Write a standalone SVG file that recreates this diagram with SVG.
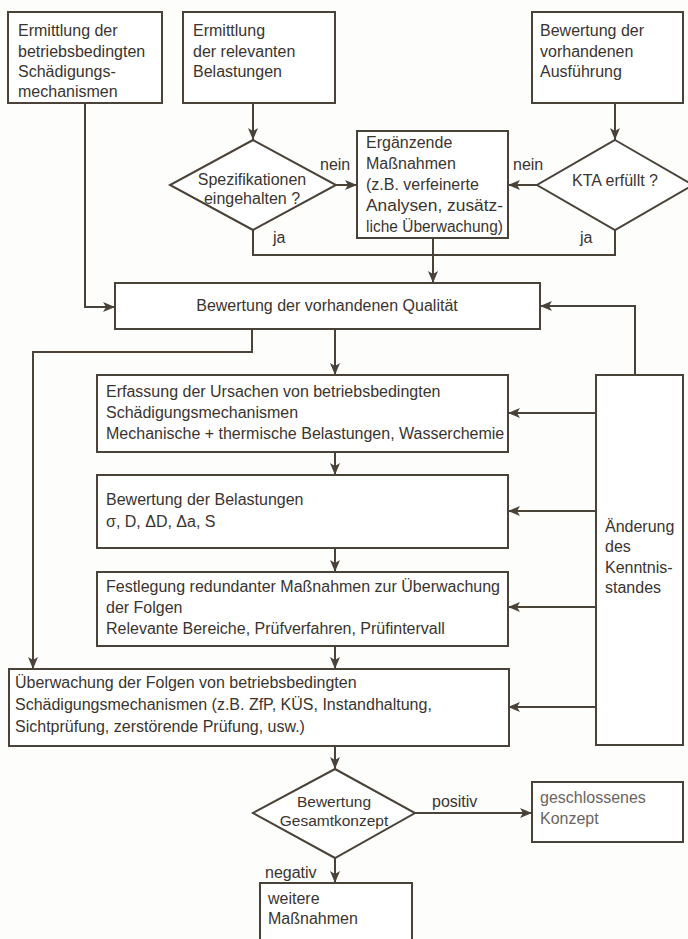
<svg xmlns="http://www.w3.org/2000/svg" width="688" height="939" viewBox="0 0 688 939">
<style>
.bg{fill:#fdfdfc}
.box{fill:#ffffff;stroke:#4a4238;stroke-width:2}
.c{fill:none;stroke:#4a4238;stroke-width:2}
.t{font-family:"Liberation Sans",Arial,sans-serif;font-size:16px;fill:#3a342f}
.d{font-size:15.5px}
.m{text-anchor:middle}
.g{fill:#6a6560}
</style>
<defs>
<marker id="ah" viewBox="0 0 12 10" refX="12" refY="5" markerWidth="12" markerHeight="10" markerUnits="userSpaceOnUse" orient="auto">
<path d="M0,0 L12,5 L0,10 L3,5 z" fill="#4a4238"/>
</marker>
</defs>
<rect class="bg" x="0" y="0" width="688" height="939"/>

<g id="connectors">
<path class="c" d="M85,103 V307 H115" marker-end="url(#ah)"/>
<path class="c" d="M253,103 V140" marker-end="url(#ah)"/>
<path class="c" d="M615,103 V140" marker-end="url(#ah)"/>
<path class="c" d="M336,185 H357" marker-end="url(#ah)"/>
<path class="c" d="M537,185 H508" marker-end="url(#ah)"/>
<path class="c" d="M253,230 V255 H615 V230"/>
<path class="c" d="M433,238 V283" marker-end="url(#ah)"/>
<path class="c" d="M335,329 V375" marker-end="url(#ah)"/>
<path class="c" d="M252,329 V352 H33 V669" marker-end="url(#ah)"/>
<path class="c" d="M335,452 V475" marker-end="url(#ah)"/>
<path class="c" d="M335,548 V572" marker-end="url(#ah)"/>
<path class="c" d="M335,646 V669" marker-end="url(#ah)"/>
<path class="c" d="M635,375 V306 H540" marker-end="url(#ah)"/>
<path class="c" d="M596,413 H508" marker-end="url(#ah)"/>
<path class="c" d="M596,511 H508" marker-end="url(#ah)"/>
<path class="c" d="M596,607 H508" marker-end="url(#ah)"/>
<path class="c" d="M596,707 H508" marker-end="url(#ah)"/>
<path class="c" d="M335,746 V769" marker-end="url(#ah)"/>
<path class="c" d="M415,813 H532" marker-end="url(#ah)"/>
<path class="c" d="M335,858 V883" marker-end="url(#ah)"/>
<text class="t" x="320" y="170">nein</text>
<text class="t" x="513" y="170">nein</text>
<text class="t" x="273" y="243">ja</text>
<text class="t" x="580" y="243">ja</text>
<text class="t" x="432" y="807">positiv</text>
<text class="t" x="265" y="878">negativ</text>
</g>

<g id="n1">
<rect class="box" x="8" y="12" width="154" height="91"/>
<text class="t" x="18" y="36">Ermittlung der</text>
<text class="t" x="18" y="57">betriebsbedingten</text>
<text class="t" x="18" y="77">Schädigungs-</text>
<text class="t" x="18" y="97">mechanismen</text>
</g>

<g id="n2">
<rect class="box" x="183" y="12" width="152" height="91"/>
<text class="t" x="193" y="36">Ermittlung</text>
<text class="t" x="193" y="57">der relevanten</text>
<text class="t" x="193" y="77">Belastungen</text>
</g>

<g id="n3">
<rect class="box" x="532" y="12" width="151" height="91"/>
<text class="t" x="540" y="36">Bewertung der</text>
<text class="t" x="540" y="57">vorhandenen</text>
<text class="t" x="540" y="77">Ausführung</text>
</g>

<g id="d1">
<polygon class="box" points="253,140 336,185 253,230 170,185"/>
<text class="t m" x="252" y="185">Spezifikationen</text>
<text class="t m" x="252" y="204">eingehalten ?</text>
</g>

<g id="d2">
<polygon class="box" points="615,140 693,185 615,230 537,185"/>
<text class="t m" x="615" y="186">KTA erfüllt ?</text>
</g>

<g id="n4">
<rect class="box" x="357" y="131" width="151" height="107"/>
<text class="t" x="366" y="148">Ergänzende</text>
<text class="t" x="366" y="169">Maßnahmen</text>
<text class="t" x="366" y="190">(z.B. verfeinerte</text>
<text class="t" x="366" y="211" textLength="137" lengthAdjust="spacingAndGlyphs">Analysen, zusätz-</text>
<text class="t" x="366" y="232" textLength="137" lengthAdjust="spacingAndGlyphs">liche Überwachung)</text>
</g>

<g id="n5">
<rect class="box" x="115" y="283" width="425" height="46"/>
<text class="t m" x="327" y="311">Bewertung der vorhandenen Qualität</text>
</g>

<g id="n6">
<rect class="box" x="97" y="375" width="411" height="77"/>
<text class="t" x="106" y="397">Erfassung der Ursachen von betriebsbedingten</text>
<text class="t" x="106" y="418">Schädigungsmechanismen</text>
<text class="t" x="106" y="439">Mechanische + thermische Belastungen, Wasserchemie</text>
</g>

<g id="n7">
<rect class="box" x="97" y="475" width="411" height="73"/>
<text class="t" x="106" y="505">Bewertung der Belastungen</text>
<text class="t" x="106" y="527">σ, D, ΔD, Δa, S</text>
</g>

<g id="n8">
<rect class="box" x="97" y="572" width="411" height="74"/>
<text class="t" x="106" y="592">Festlegung redundanter Maßnahmen zur Überwachung</text>
<text class="t" x="106" y="613">der Folgen</text>
<text class="t" x="106" y="634">Relevante Bereiche, Prüfverfahren, Prüfintervall</text>
</g>

<g id="n9">
<rect class="box" x="9" y="669" width="500" height="77"/>
<text class="t" x="15" y="688">Überwachung der Folgen von betriebsbedingten</text>
<text class="t" x="15" y="710">Schädigungsmechanismen (z.B. ZfP, KÜS, Instandhaltung,</text>
<text class="t" x="15" y="732">Sichtprüfung, zerstörende Prüfung, usw.)</text>
</g>

<g id="n10">
<rect class="box" x="596" y="375" width="87" height="370"/>
<text class="t" x="605" y="532">Änderung</text>
<text class="t" x="605" y="552">des</text>
<text class="t" x="605" y="573">Kenntnis-</text>
<text class="t" x="605" y="593">standes</text>
</g>

<g id="d3">
<polygon class="box" points="335,769 415,813 335,858 253,813"/>
<text class="t d m" x="334" y="807">Bewertung</text>
<text class="t d m" x="334" y="826">Gesamtkonzept</text>
</g>

<g id="n11">
<rect class="box" x="532" y="782" width="151" height="60"/>
<text class="t g" x="540" y="803">geschlossenes</text>
<text class="t g" x="540" y="824">Konzept</text>
</g>

<g id="n12">
<rect class="box" x="260" y="883" width="152" height="70"/>
<text class="t" x="268" y="904">weitere</text>
<text class="t" x="268" y="924">Maßnahmen</text>
</g>
</svg>
